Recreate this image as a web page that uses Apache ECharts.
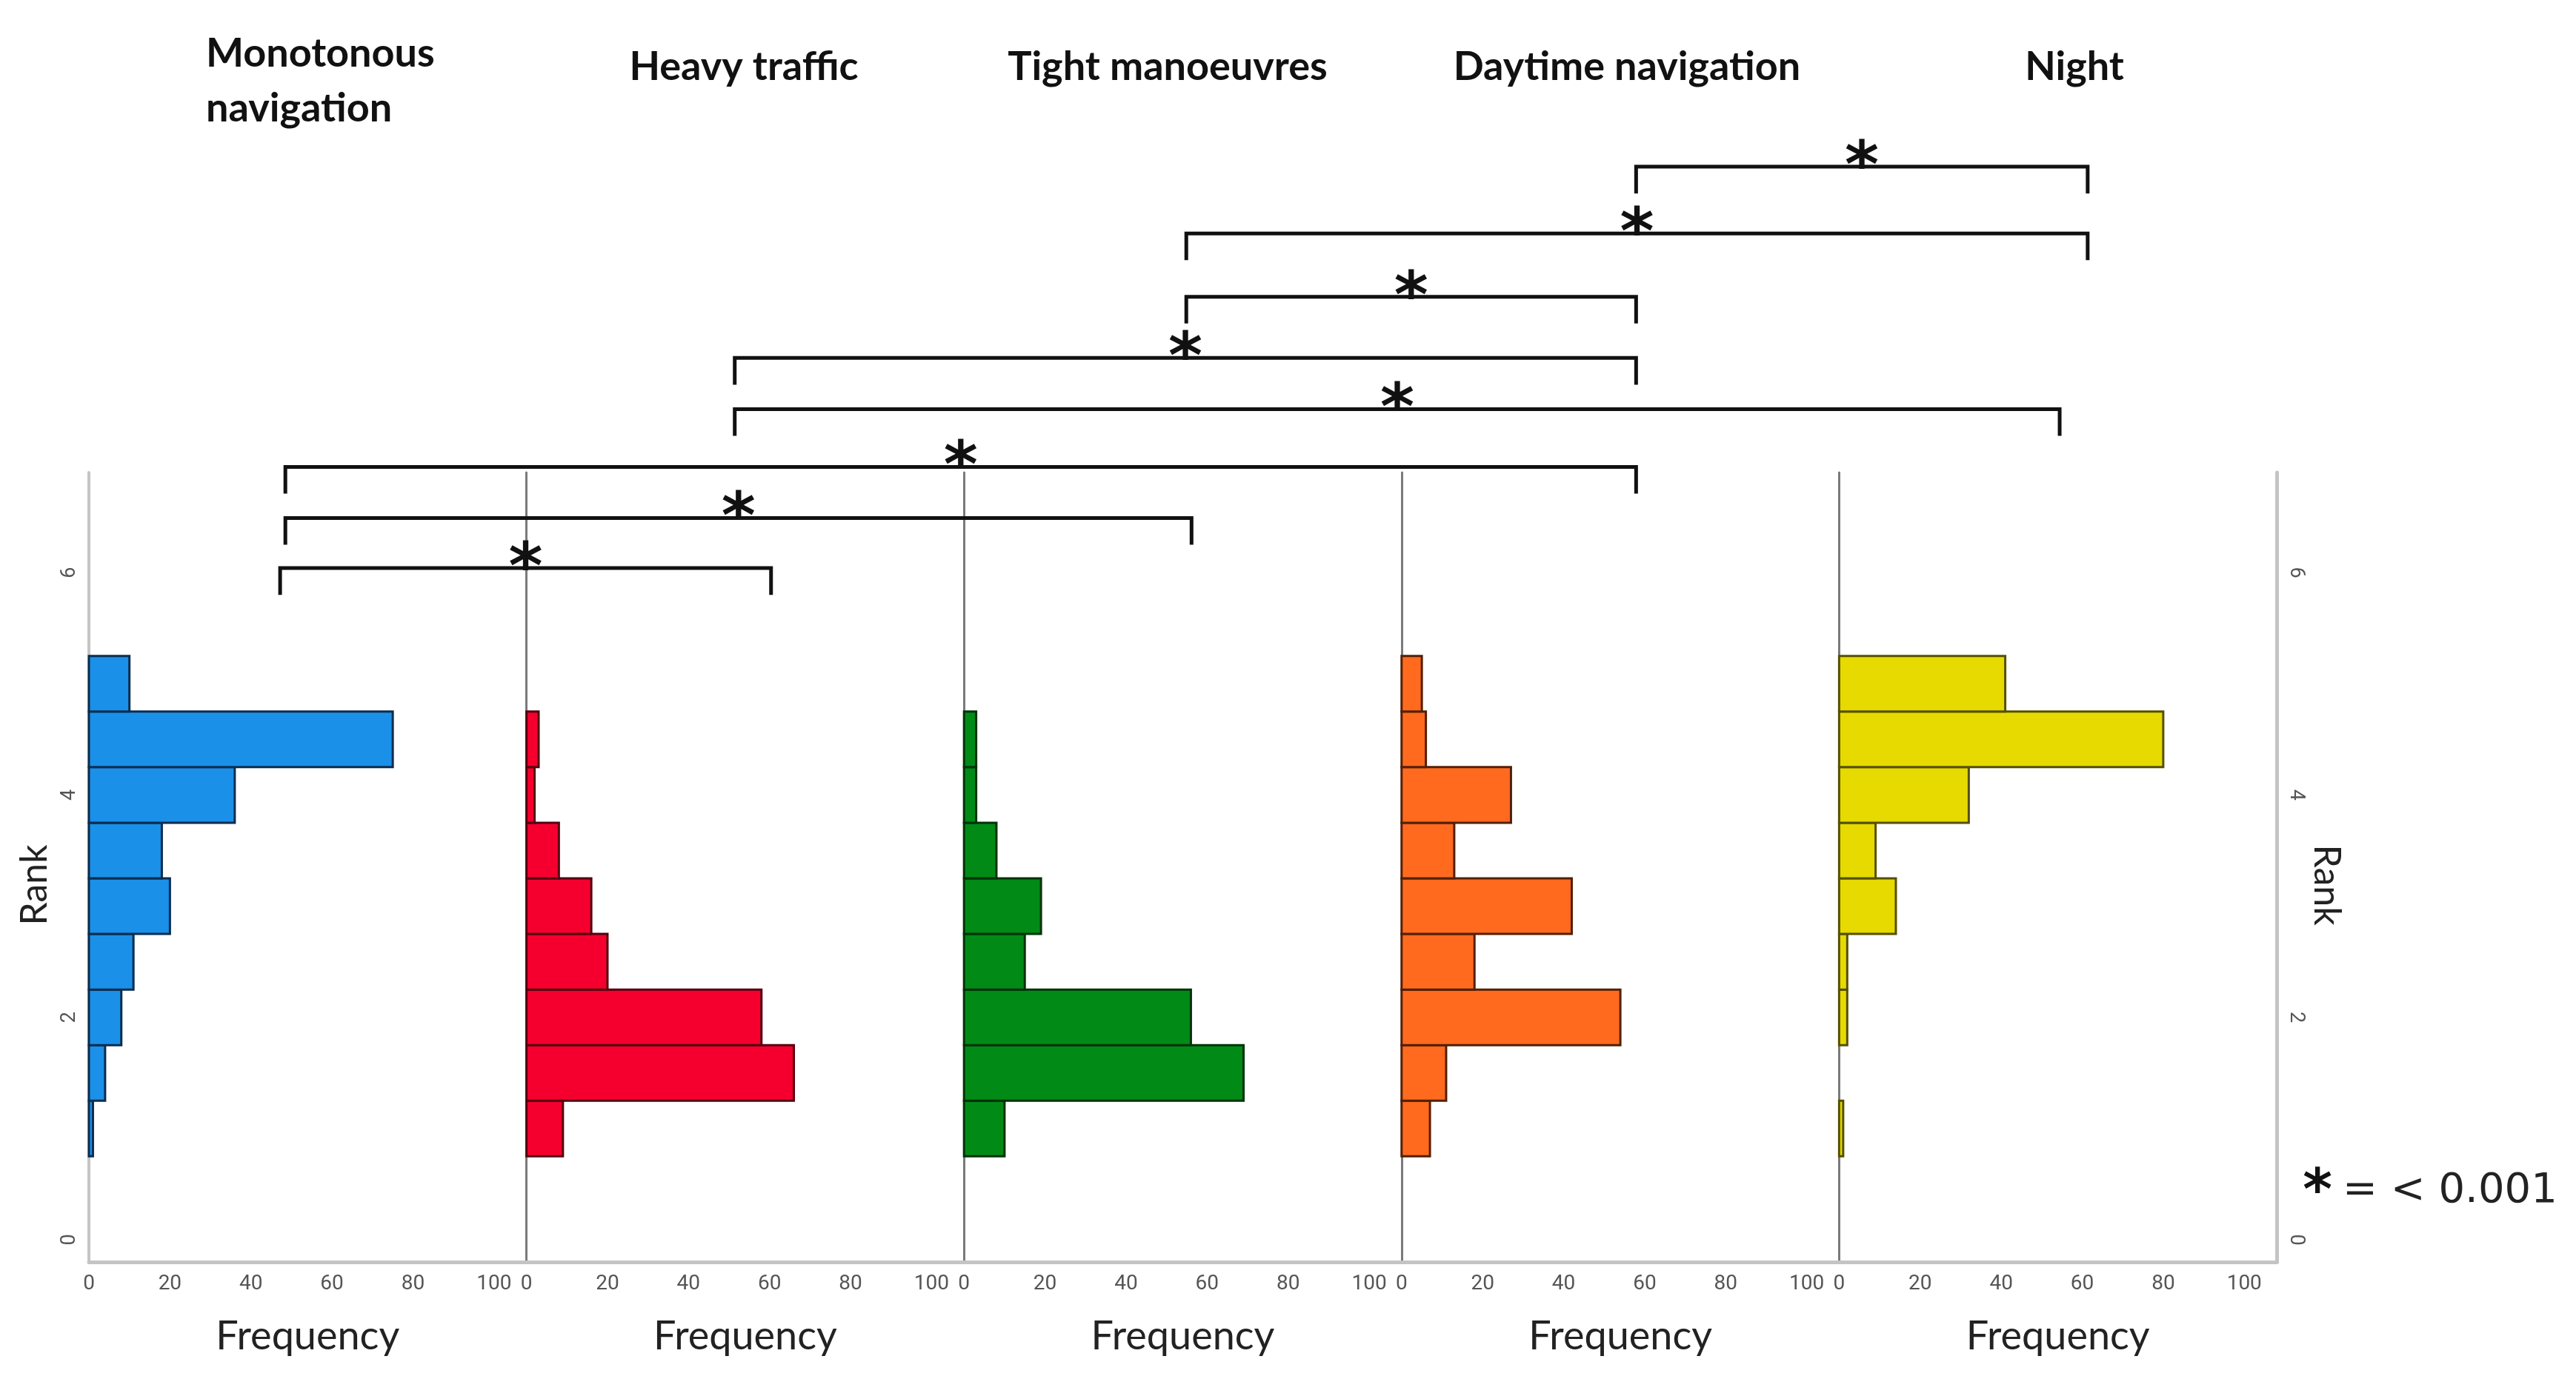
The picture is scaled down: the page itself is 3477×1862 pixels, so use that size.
<!DOCTYPE html>
<html>
<head>
<meta charset="utf-8">
<style>html,body{margin:0;padding:0;background:#fff;}#chart{width:3477px;height:1862px;}</style>
<script src="https://cdn.jsdelivr.net/npm/echarts@6/dist/echarts.min.js"></script>
</head>
<body>
<div id="chart"></div>
<script>
// ---------------- data ----------------
const categories = ['Monotonous navigation', 'Heavy traffic', 'Tight manoeuvres', 'Daytime navigation', 'Night'];
const rankBins = [1, 1.5, 2, 2.5, 3, 3.5, 4, 4.5, 5];
const monotonousFreq = [1, 4, 8, 11, 20, 18, 36, 75, 10];
const heavyTrafficFreq = [9, 66, 58, 20, 16, 8, 2, 3, 0];
const tightManoeuvresFreq = [10, 69, 56, 15, 19, 8, 3, 3, 0];
const daytimeFreq = [7, 11, 54, 18, 42, 13, 27, 6, 5];
const nightFreq = [1, 0, 2, 2, 14, 9, 32, 80, 41];
const freqTicks = [0, 20, 40, 60, 80, 100];
const rankTicks = [0, 2, 4, 6];
// significant pairwise comparisons (indices into categories), top to bottom
const significantPairs = [[3, 4], [2, 4], [2, 3], [1, 3], [1, 4], [0, 3], [0, 2], [0, 1]];
const significanceLabel = '*';
const legendText = '= < 0.001';

// ---------------- layout ----------------
const W = 3477, H = 1862;
const plotLeft = 120, panelW = 590.6, plotTop = 638, plotBottom = 158;
const freqMax = 108, rankMin = -0.2, rankMax = 6.9;
// bracket layout in overlay units (panel index + fraction), level in rank units
const bracketLayout = [
  [3.536, 4.568, 9.65], [2.508, 4.568, 9.05], [2.508, 3.536, 8.48], [1.476, 3.536, 7.93],
  [1.476, 4.504, 7.47], [0.449, 3.536, 6.95], [0.449, 2.520, 6.49], [0.437, 1.559, 6.04]
];
const seriesValues = [monotonousFreq, heavyTrafficFreq, tightManoeuvresFreq, daytimeFreq, nightFreq];
const fills = ['#1b90e8', '#f5002e', '#028a17', '#ff6a1f', '#e6da00'];
const strokes = ['#0b2d4f', '#540010', '#013308', '#522006', '#555000'];

const grids = [], xAxes = [], yAxes = [], series = [];
const tickFont = '"Liberation Sans Narrow", Roboto, sans-serif';

for (let i = 0; i < 5; i++) {
  grids.push({left: plotLeft + i * panelW, width: panelW, top: plotTop, bottom: plotBottom, containLabel: false});
  xAxes.push({
    type: 'value', gridIndex: i, min: 0, max: freqMax,
    name: 'Frequency', nameLocation: 'middle', nameGap: 74,
    nameTextStyle: {fontFamily: 'Lato', fontSize: 54, color: '#222'},
    axisLine: {show: true, onZero: false, lineStyle: {color: '#c4c4c4', width: 5}},
    axisTick: {show: false},
    splitLine: {show: false},
    axisLabel: {customValues: freqTicks, margin: 16, fontSize: 28, color: '#555', fontFamily: tickFont}
  });
  yAxes.push({
    type: 'value', gridIndex: i, min: rankMin, max: rankMax,
    name: i === 0 ? 'Rank' : '', nameLocation: 'middle', nameGap: 48,
    nameTextStyle: {fontFamily: 'Lato', fontSize: 50, color: '#222', padding: [0, 0, 0, -48]},
    axisLine: {show: true, onZero: false, lineStyle: {color: i === 0 ? '#c4c4c4' : '#7a7a7a', width: i === 0 ? 4 : 3}},
    axisTick: {show: false},
    splitLine: {show: false},
    axisLabel: {show: i === 0, customValues: rankTicks, rotate: 90, margin: 12, fontSize: 27, color: '#555', fontFamily: tickFont}
  });
}
// right rank axis on last panel
yAxes.push({
  type: 'value', gridIndex: 4, position: 'right', min: rankMin, max: rankMax,
  name: 'Rank', nameLocation: 'middle', nameGap: 42, nameRotate: -90,
  nameTextStyle: {fontFamily: 'Lato', fontSize: 50, color: '#222', padding: [0, 0, 0, 48]},
  axisLine: {show: true, onZero: false, lineStyle: {color: '#c4c4c4', width: 5}},
  axisTick: {show: false}, splitLine: {show: false},
  axisLabel: {customValues: rankTicks, rotate: -90, margin: 12, fontSize: 27, color: '#555', fontFamily: tickFont}
});
// overlay grid for comparison brackets
const overlayRankMax = 10;
grids.push({left: plotLeft, width: panelW * 5, top: plotTop - (overlayRankMax - rankMax) * ((H - plotBottom - plotTop) / (rankMax - rankMin)), bottom: plotBottom});
xAxes.push({type: 'value', gridIndex: 5, min: 0, max: 5, show: false});
yAxes.push({type: 'value', gridIndex: 5, min: rankMin, max: overlayRankMax, show: false});

for (let i = 0; i < 5; i++) {
  const vals = seriesValues[i];
  series.push({
    name: categories[i], type: 'custom', xAxisIndex: i, yAxisIndex: i,
    encode: {x: 0, y: 1},
    data: rankBins.map((r, k) => [vals[k], r]),
    renderItem: function (params, api) {
      const v = api.value(0), r = api.value(1);
      if (!v) return null;
      const p0 = api.coord([0, r + 0.25]);
      const p1 = api.coord([v, r - 0.25]);
      return {
        type: 'rect',
        shape: {x: p0[0], y: p0[1], width: p1[0] - p0[0], height: p1[1] - p0[1]},
        style: {fill: fills[i], stroke: strokes[i], lineWidth: 3}
      };
    },
    z: 3
  });
}

series.push({
  name: 'comparisons', type: 'custom', xAxisIndex: 5, yAxisIndex: 6,
  encode: {x: [0, 1], y: 2},
  data: significantPairs.map((pair, k) => [bracketLayout[k][0], bracketLayout[k][1], bracketLayout[k][2], pair[0], pair[1]]),
  renderItem: function (params, api) {
    const x1 = api.value(0), x2 = api.value(1), lv = api.value(2);
    const drop = 0.24;
    const a = api.coord([x1, lv - drop]), b = api.coord([x1, lv]), c = api.coord([x2, lv]), d = api.coord([x2, lv - drop]);
    const m = api.coord([(x1 + x2) / 2, lv]);
    return {
      type: 'group',
      children: [
        {type: 'polyline', shape: {points: [a, b, c, d]}, style: {stroke: '#111', lineWidth: 5, fill: null}},
        {type: 'text', x: m[0], y: m[1] + 4, style: {text: significanceLabel, fill: '#111', font: 'bold 88px "DejaVu Sans"', textAlign: 'center', textVerticalAlign: 'middle'}}
      ]
    };
  },
  z: 5
});

const titleStyle = {fill: '#111', font: 'bold 54px Lato', textAlign: 'center', textVerticalAlign: 'middle'};
const graphics = [
  {type: 'text', left: 278, top: 36, style: {text: 'Monotonous\nnavigation', fill: '#111', font: 'bold 54px Lato', lineHeight: 74}},
  {type: 'text', x: 1004, y: 91, style: Object.assign({text: categories[1]}, titleStyle)},
  {type: 'text', x: 1576, y: 91, style: Object.assign({text: categories[2]}, titleStyle)},
  {type: 'text', x: 2196, y: 91, style: Object.assign({text: categories[3]}, titleStyle)},
  {type: 'text', x: 2800, y: 91, style: Object.assign({text: categories[4]}, titleStyle)},
  {type: 'text', x: 3128, y: 1612, style: {text: significanceLabel, fill: '#111', font: 'bold 76px "DejaVu Sans"', textAlign: 'center', textVerticalAlign: 'middle'}},
  {type: 'text', x: 3162, y: 1608, style: {text: legendText, fill: '#222', font: '56px "DejaVu Sans"', textAlign: 'left', textVerticalAlign: 'middle'}}
];

const chart = echarts.init(document.getElementById('chart'), null, {renderer: 'canvas'});
chart.setOption({
  backgroundColor: '#ffffff',
  animation: false,
  grid: grids,
  xAxis: xAxes,
  yAxis: yAxes,
  series: series,
  graphic: graphics
});
</script>
</body>
</html>
